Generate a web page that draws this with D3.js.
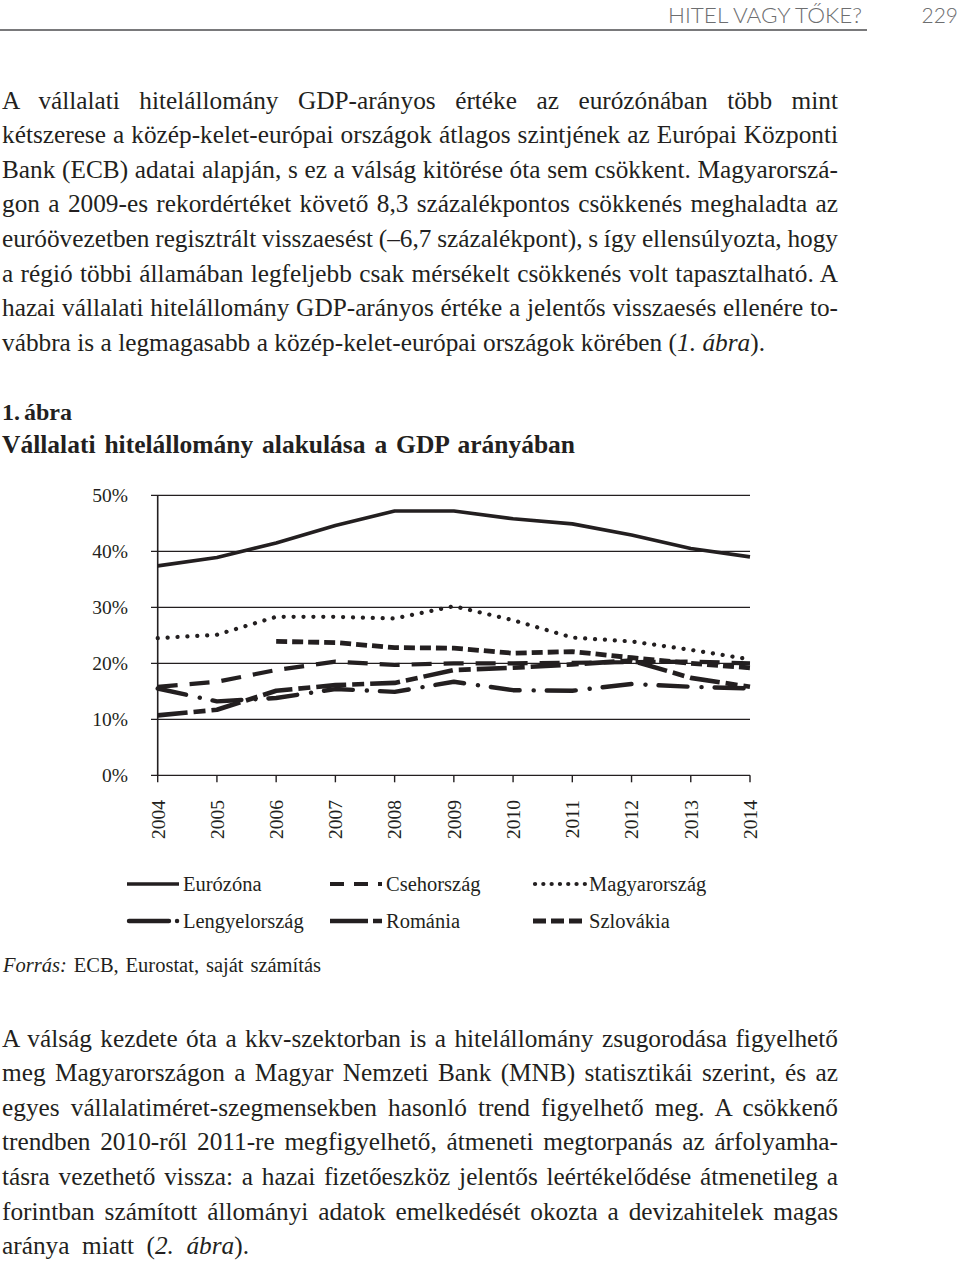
<!DOCTYPE html>
<html>
<head>
<meta charset="utf-8">
<script src="https://cdn.jsdelivr.net/npm/d3@7"></script>
<style>
  html, body { margin: 0; padding: 0; background: #fff; }
  svg { display: block; }
  .serif { font-family: "Liberation Serif", "DejaVu Serif", serif; fill: #231f20; }
</style>
</head>
<body>
<svg id="page" width="960" height="1261"></svg>
<script>
// ---------------- DATA ----------------
const years = [2004, 2005, 2006, 2007, 2008, 2009, 2010, 2011, 2012, 2013, 2014];
const eurozona     = [37.4, 38.9, 41.5, 44.6, 47.2, 47.2, 45.8, 44.9, 42.9, 40.5, 39.0];
const csehorszag   = [15.8, 16.7, 18.8, 20.3, 19.7, 20.0, 20.0, 20.1, 20.2, 20.3, 20.0];
const magyarorszag = [24.5, 25.1, 28.3, 28.3, 28.0, 30.2, 27.7, 24.6, 23.9, 22.4, 20.7];
const lengyelorszag= [15.5, 13.2, 13.8, 15.4, 14.9, 16.7, 15.2, 15.1, 16.3, 15.8, 15.5];
const romania      = [10.7, 11.7, 15.1, 16.1, 16.5, 18.8, 19.2, 19.8, 20.5, 17.4, 15.8];
const szlovakia    = [null, null, 23.9, 23.7, 22.8, 22.7, 21.8, 22.1, 21.0, 20.0, 19.2];
const yTicks = [0, 10, 20, 30, 40, 50];
const seriesNames = ["Eurózóna", "Csehország", "Magyarország", "Lengyelország", "Románia", "Szlovákia"];

const headerTitle = "HITEL VAGY TŐKE?";
const pageNumber = "229";
const para1 = [
  "A vállalati hitelállomány GDP-arányos értéke az eurózónában több mint",
  "kétszerese a közép-kelet-európai országok átlagos szintjének az Európai Központi",
  "Bank (ECB) adatai alapján, s ez a válság kitörése óta sem csökkent. Magyarorszá-",
  "gon a 2009-es rekordértéket követő 8,3 százalékpontos csökkenés meghaladta az",
  "euróövezetben regisztrált visszaesést (–6,7 százalékpont), s így ellensúlyozta, hogy",
  "a régió többi államában legfeljebb csak mérsékelt csökkenés volt tapasztalható. A",
  "hazai vállalati hitelállomány GDP-arányos értéke a jelentős visszaesés ellenére to-",
  ["vábbra is a legmagasabb a közép-kelet-európai országok körében (", "1. ábra", ")."]
];
const para2 = [
  "A válság kezdete óta a kkv-szektorban is a hitelállomány zsugorodása figyelhető",
  "meg Magyarországon a Magyar Nemzeti Bank (MNB) statisztikái szerint, és az",
  "egyes vállalatiméret-szegmensekben hasonló trend figyelhető meg. A csökkenő",
  "trendben 2010-ről 2011-re megfigyelhető, átmeneti megtorpanás az árfolyamha-",
  "tásra vezethető vissza: a hazai fizetőeszköz jelentős leértékelődése átmenetileg a",
  "forintban számított állományi adatok emelkedését okozta a devizahitelek magas",
  ["aránya miatt (", "2. ábra", ")."]
];
const figLabel = "1. ábra";
const figTitle = "Vállalati hitelállomány alakulása a GDP arányában";
const sourceItalic = "Forrás:";
const sourceText = " ECB, Eurostat, saját számítás";

// ---------------- PAGE ----------------
const svg = d3.select("#page");

// header
const hdr = svg.append("text").attr("x", 862).attr("y", 22.5).attr("text-anchor", "end")
  .style("font-family", "Lato, 'Open Sans', sans-serif").style("font-weight", 300)
  .style("font-size", "21px").style("fill", "#6d6e70").text(headerTitle);
hdr.attr("textLength", 194).attr("lengthAdjust", "spacingAndGlyphs");
svg.append("text").attr("x", 958).attr("y", 22.5).attr("text-anchor", "end")
  .style("font-family", "Lato, 'Open Sans', sans-serif").style("font-weight", 300)
  .style("font-size", "21px").style("fill", "#6d6e70").text(pageNumber);
svg.append("line").attr("x1", 0).attr("x2", 867).attr("y1", 30).attr("y2", 30)
  .attr("stroke", "#4d4d4f").attr("stroke-width", 1.6);

// text fitter
function fitLine(t, target) {
  const w = t.node().getComputedTextLength();
  const s = t.text().split(" ").length - 1;
  if (s > 0) {
    const ws = (target - w) / s;
    if (ws > -2.5) { t.style("word-spacing", ws + "px"); return; }
  }
  t.attr("textLength", target).attr("lengthAdjust", "spacingAndGlyphs");
}
function drawPara(lines, y0, lastWidth) {
  lines.forEach((ln, i) => {
    const t = svg.append("text").attr("class", "serif").attr("x", 2).attr("y", y0 + i * 34.65)
      .style("font-size", "25.3px");
    if (Array.isArray(ln)) {
      t.append("tspan").text(ln[0]);
      t.append("tspan").style("font-style", "italic").text(ln[1]);
      t.append("tspan").text(ln[2]);
    } else t.text(ln);
    fitLine(t, i === lines.length - 1 ? lastWidth : 836);
  });
}
drawPara(para1, 108.5, 763);
drawPara(para2, 1046.5, 247);

// figure heading
const fl = svg.append("text").attr("class", "serif").attr("x", 2).attr("y", 420)
  .style("font-size", "24px").style("font-weight", "bold").text(figLabel);
fitLine(fl, 70);
const ft = svg.append("text").attr("class", "serif").attr("x", 2).attr("y", 453)
  .style("font-size", "25.5px").style("font-weight", "bold").text(figTitle);
fitLine(ft, 573);

// source
const src = svg.append("text").attr("class", "serif").attr("x", 3).attr("y", 972).style("font-size", "20.5px");
src.append("tspan").style("font-style", "italic").text(sourceItalic);
src.append("tspan").text(sourceText);
fitLine(src, 318);

// ---------------- CHART ----------------
const x = d3.scalePoint().domain(years).range([157.7, 750]);
const y = d3.scaleLinear().domain([0, 50]).range([775.3, 495.3]);
const g = svg.append("g");

// gridlines
g.selectAll(".grid").data(yTicks).join("line")
  .attr("x1", 151).attr("x2", 750)
  .attr("y1", d => y(d)).attr("y2", d => y(d))
  .attr("stroke", "#231f20").attr("stroke-width", 1.3);
// y axis line
g.append("line").attr("x1", 157.7).attr("x2", 157.7).attr("y1", y(50)).attr("y2", y(0))
  .attr("stroke", "#231f20").attr("stroke-width", 1.6);
// x ticks
g.selectAll(".xt").data(years).join("line")
  .attr("x1", d => x(d)).attr("x2", d => x(d)).attr("y1", y(0)).attr("y2", y(0) + 7)
  .attr("stroke", "#231f20").attr("stroke-width", 1.4);
// y labels
g.selectAll(".yl").data(yTicks).join("text").attr("class", "serif")
  .attr("x", 128).attr("y", d => y(d)).attr("dy", "0.35em").attr("text-anchor", "end")
  .style("font-size", "19.5px").text(d => d + "%");
// x labels
g.selectAll(".xl").data(years).join("text").attr("class", "serif")
  .attr("transform", d => `translate(${x(d)},800) rotate(-90)`)
  .attr("text-anchor", "end").attr("dy", "0.35em")
  .style("font-size", "19.5px").text(d => d);

const styles = [
  { data: eurozona,      dash: null,            w: 3.6, cap: "butt" },
  { data: csehorszag,    dash: "20 12",         w: 4.2, cap: "butt" },
  { data: magyarorszag,  dash: "0.1 9.8",       w: 4.2, cap: "round" },
  { data: lengyelorszag, dash: "29 14 0.1 13",  w: 4.4, cap: "round" },
  { data: romania,       dash: "30 6 12 6",     w: 4.6, cap: "butt" },
  { data: szlovakia,     dash: "11 5",          w: 4.8, cap: "butt" }
];
const line = d3.line().defined(d => d != null)
  .x((d, i) => x(years[i])).y(d => y(d)).curve(d3.curveLinear);

styles.forEach(s => {
  g.append("path").attr("d", line(s.data)).attr("fill", "none")
    .attr("stroke", "#231f20").attr("stroke-width", s.w)
    .attr("stroke-linecap", s.cap).attr("stroke-linejoin", "round")
    .attr("stroke-dasharray", s.dash);
});

// legend
const legendPos = [
  { lx: 127, ty: 884 }, { lx: 330, ty: 884 }, { lx: 533, ty: 884 },
  { lx: 127, ty: 921 }, { lx: 330, ty: 921 }, { lx: 533, ty: 921 }
];
const legendDash = [null, "14 10", "0.1 8.2", "40 8 0.1 20", "38 5 12 5", "13 5"];
seriesNames.forEach((name, i) => {
  const p = legendPos[i], s = styles[i];
  g.append("line").attr("x1", p.lx + (s.cap === "round" ? 2 : 0)).attr("x2", p.lx + 52)
    .attr("y1", p.ty).attr("y2", p.ty)
    .attr("stroke", "#231f20").attr("stroke-width", s.w)
    .attr("stroke-linecap", s.cap).attr("stroke-dasharray", legendDash[i]);
  g.append("text").attr("class", "serif").attr("x", p.lx + 56).attr("y", p.ty).attr("dy", "0.33em")
    .style("font-size", "20.5px").text(name);
});
</script>
</body>
</html>
